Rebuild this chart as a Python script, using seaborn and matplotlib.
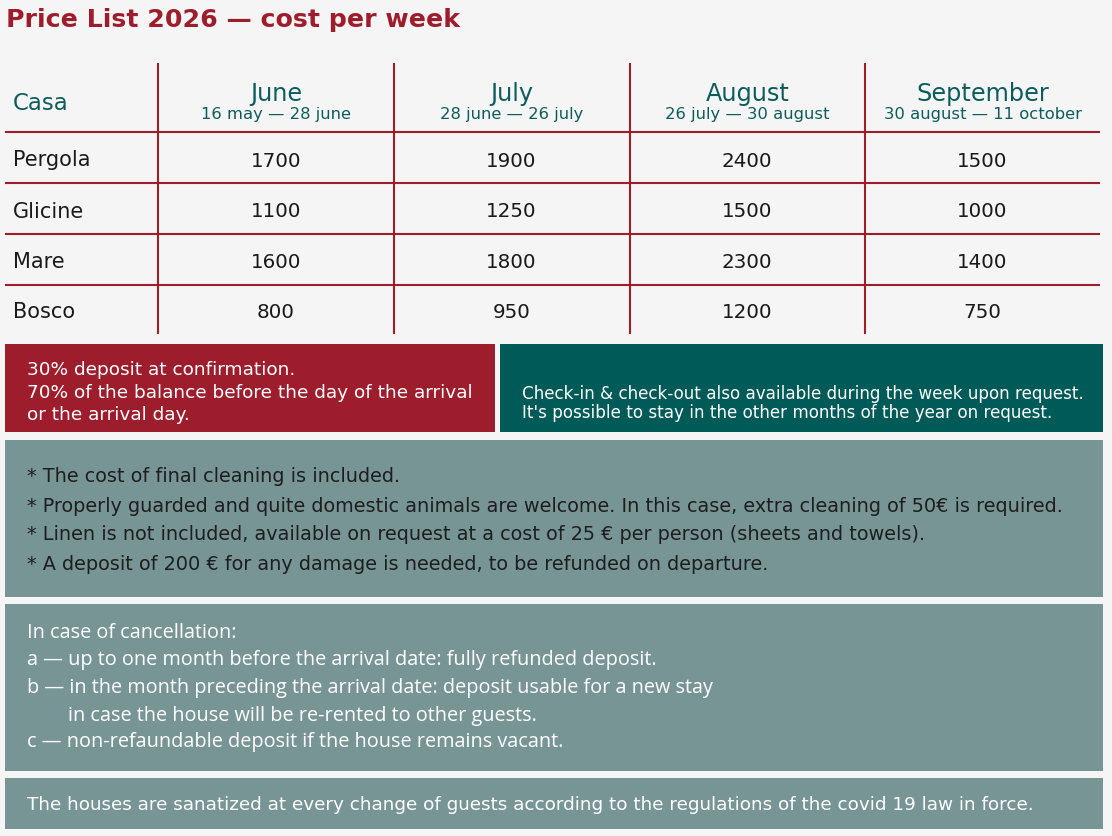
import numpy as np
import pandas as pd
import matplotlib
matplotlib.use("Agg")
import matplotlib.pyplot as plt
from matplotlib.colors import ListedColormap
from matplotlib.patches import Rectangle
import seaborn as sns

# --- data ---
houses = ["Pergola", "Glicine", "Mare", "Bosco"]
months = ["June", "July", "August", "September"]
periods = ["16 may — 28 june", "28 june — 26 july",
           "26 july — 30 august", "30 august — 11 october"]
june = [1700, 1100, 1600, 800]
july = [1900, 1250, 1800, 950]
august = [2400, 1500, 2300, 1200]
september = [1500, 1000, 1400, 750]

payment_notes = ["30% deposit at confirmation.",
                 "70% of the balance before the day of the arrival",
                 "or the arrival day."]
checkin_notes = ["Check-in & check-out also available during the week upon request.",
                 "It's possible to stay in the other months of the year on request."]
general_notes = ["* The cost of final cleaning is included.",
                 "* Properly guarded and quite domestic animals are welcome. In this case, extra cleaning of 50€ is required.",
                 "* Linen is not included, available on request at a cost of 25 € per person (sheets and towels).",
                 "* A deposit of 200 € for any damage is needed, to be refunded on departure."]
cancel_notes = ["In case of cancellation:",
                "a — up to one month before the arrival date: fully refunded deposit.",
                "b — in the month preceding the arrival date: deposit usable for a new stay",
                "in case the house will be re-rented to other guests.",
                "c — non-refaundable deposit if the house remains vacant."]
covid_note = "The houses are sanatized at every change of guests according to the regulations of the covid 19 law in force."

prices = pd.DataFrame({"June": june, "July": july, "August": august,
                       "September": september}, index=houses)

# --- style ---
BG = "#f5f5f5"
RED = "#9e1d2d"
TEAL = "#0d5c5c"
TEAL_BOX = "#005a58"
GREY_BOX = "#789596"
INK = "#1a1a1a"

sns.set_theme(style="white")
plt.rcParams['font.family'] = ['DejaVu Sans']

W, H = 1112, 836
fig = plt.figure(figsize=(W / 100, H / 100), dpi=100, facecolor=BG)
ax = fig.add_axes([0, 0, 1, 1])
ax.set_xlim(0, W)
ax.set_ylim(H, 0)
ax.set_facecolor(BG)
ax.axis("off")

# title
ax.text(6, 18, "Price List 2026 — cost per week", color=RED, fontsize=18.2,
        fontweight="bold", va="center_baseline", ha="left")

# table grid
col_edges = [5, 158, 394, 630, 865, 1100]
row_edges = [63, 132, 183, 234, 285, 334]
ax.vlines(col_edges[1:-1], row_edges[0], row_edges[-1], color=RED, lw=1.5)
ax.hlines(row_edges[1:-1], col_edges[0], col_edges[-1], color=RED, lw=1.5)

# header
ax.text(13, 101, "Casa", color=TEAL, fontsize=16.5, va="center_baseline")
for i, (m, p) in enumerate(zip(months, periods)):
    cx = (col_edges[i + 1] + col_edges[i + 2]) / 2
    ax.text(cx, 91, m, color=TEAL, fontsize=17.3, ha="center", va="center_baseline")
    ax.text(cx, 113, p, color=TEAL, fontsize=11.8, ha="center", va="center_baseline")

# row labels
for j, h in enumerate(houses):
    cy = (row_edges[j + 1] + row_edges[j + 2]) / 2 + 1
    ax.text(13, cy, h, color=INK, fontsize=15, va="center_baseline")

# price cells via seaborn heatmap (transparent cells, annotated values)
hx0, hx1 = col_edges[1], col_edges[-1]
hy0, hy1 = row_edges[1] + 2, row_edges[-1] + 2
hax = fig.add_axes([hx0 / W, 1 - hy1 / H, (hx1 - hx0) / W, (hy1 - hy0) / H])
sns.heatmap(prices, ax=hax, cmap=ListedColormap([(0, 0, 0, 0)]), cbar=False,
            annot=True, fmt="d", linewidths=0,
            annot_kws={"color": INK, "fontsize": 14.3, "va": "center_baseline"})
hax.patch.set_visible(False)
hax.set_xticks([])
hax.set_yticks([])
hax.set_xlabel("")
hax.set_ylabel("")
for s in hax.spines.values():
    s.set_visible(False)

# coloured boxes
boxes = [(5, 344, 495, 432, RED), (500, 344, 1103, 432, TEAL_BOX),
         (5, 440, 1103, 597, GREY_BOX), (5, 604, 1103, 771, GREY_BOX),
         (5, 778, 1103, 829, GREY_BOX)]
for x0, y0, x1, y1, c in boxes:
    ax.add_patch(Rectangle((x0, y0), x1 - x0, y1 - y0, color=c, lw=0))

for y, t in zip([368, 391, 413], payment_notes):
    ax.text(27, y, t, color="white", fontsize=13.3, va="center_baseline")
for y, t in zip([392, 411], checkin_notes):
    ax.text(522, y, t, color="white", fontsize=12.1, va="center_baseline")
for y, t in zip([475, 504, 533, 563], general_notes):
    ax.text(27, y, t, color="#1e1e1e", fontsize=13.9, va="center_baseline")
cancel_x = [27, 27, 27, 68, 27]
for x, y, t in zip(cancel_x, [631, 658, 685, 713, 740], cancel_notes):
    ax.text(x, y, t, color="white", fontsize=14.3, va="center_baseline",
            family=["Open Sans", "DejaVu Sans"])
ax.text(27, 803, covid_note, color="white", fontsize=13.2, va="center_baseline")

fig.savefig("out.png", dpi=100, facecolor=BG)
